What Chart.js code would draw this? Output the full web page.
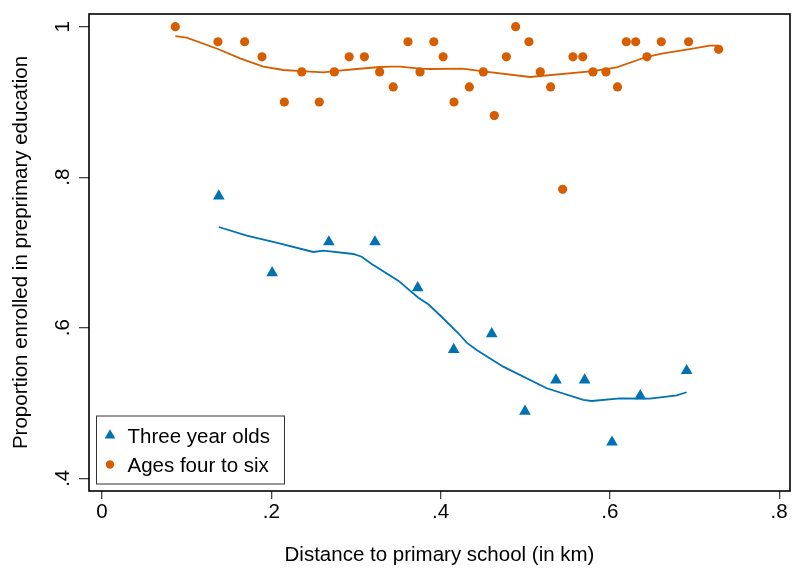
<!DOCTYPE html>
<html>
<head>
<meta charset="utf-8">
<script src="https://cdn.jsdelivr.net/npm/chart.js@4.4.0/dist/chart.umd.min.js"></script>
<style>
  html, body { margin: 0; padding: 0; background: #fff; }
  #chart { display: block; }
</style>
</head>
<body>
<canvas id="chart" width="792" height="569"></canvas>
<script>
// Values
const seriesLabels = ['Three year olds', 'Ages four to six'];

// three year olds: scatter + smoothed line
const threeX = [0.138, 0.201, 0.268, 0.3225, 0.373, 0.4155, 0.4604, 0.4997, 0.5363, 0.5702, 0.6025, 0.6359, 0.6907];
const threeY = [0.775, 0.673, 0.714, 0.714, 0.653, 0.571, 0.592, 0.489, 0.5305, 0.5305, 0.448, 0.5096, 0.543];
const threeFitX = [0.138, 0.171, 0.206, 0.2496, 0.2615, 0.2969, 0.3068, 0.3186, 0.350, 0.3737, 0.3855, 0.3993, 0.421, 0.4308, 0.4426, 0.474, 0.5253, 0.5686, 0.5785, 0.6119, 0.6474, 0.679, 0.6907];
const threeFitY = [0.7339, 0.7223, 0.713, 0.7007, 0.7024, 0.698, 0.6944, 0.6847, 0.6626, 0.64, 0.6312, 0.6166, 0.5927, 0.5802, 0.5705, 0.5483, 0.5196, 0.5041, 0.5027, 0.5063, 0.5058, 0.5103, 0.5143];

// ages four to six: scatter + smoothed line
const fourSixX = [0.0866, 0.137, 0.1685, 0.189, 0.2154, 0.236, 0.2567, 0.2745, 0.292, 0.31, 0.328, 0.344, 0.3615, 0.3757, 0.392, 0.403, 0.4158, 0.434, 0.4505, 0.4635, 0.4777, 0.4887, 0.5044, 0.5178, 0.530, 0.5442, 0.5564, 0.568, 0.580, 0.5954, 0.609, 0.6194, 0.6305, 0.6438, 0.6607, 0.693, 0.7285];
const fourSixY = [1.0, 0.98, 0.98, 0.96, 0.90, 0.94, 0.90, 0.94, 0.96, 0.96, 0.94, 0.92, 0.98, 0.94, 0.98, 0.96, 0.90, 0.92, 0.94, 0.882, 0.96, 1.0, 0.98, 0.94, 0.92, 0.784, 0.96, 0.96, 0.94, 0.94, 0.92, 0.98, 0.98, 0.96, 0.98, 0.98, 0.97];
const fourSixFitX = [0.0866, 0.100, 0.137, 0.163, 0.1906, 0.2142, 0.236, 0.2615, 0.2745, 0.3009, 0.328, 0.3403, 0.352, 0.3757, 0.3875, 0.426, 0.4505, 0.5056, 0.58, 0.608, 0.6438, 0.663, 0.6926, 0.718, 0.7285];
const fourSixFitY = [0.9876, 0.9854, 0.9704, 0.958, 0.9469, 0.9425, 0.9411, 0.9394, 0.9411, 0.9438, 0.9465, 0.9469, 0.9469, 0.9442, 0.9438, 0.9442, 0.9407, 0.9332, 0.9411, 0.9461, 0.9601, 0.9647, 0.97, 0.9748, 0.9748];

// axis ticks
const xTicks = [0, 0.2, 0.4, 0.6, 0.8];
const xTickLabels = ['0', '.2', '.4', '.6', '.8'];
const yTicks = [0.4, 0.6, 0.8, 1];
const yTickLabels = ['.4', '.6', '.8', '1'];

const BLUE = '#0072B2';
const ORANGE = '#D55E00';
const FONT = "'Liberation Sans', Arial, sans-serif";

function toPoints(xs, ys) {
    return xs.map((x, i) => ({ x: x, y: ys[i] }));
}

// frame, rotated y labels and the legend inside the plot
const stataPlugin = {
    id: 'stataPlugin',
    afterDraw(chart) {
        const { ctx, chartArea } = chart;
        const yScale = chart.scales.y;

        ctx.save();
        // plot region frame
        ctx.strokeStyle = '#000';
        ctx.lineWidth = 1.6;
        ctx.strokeRect(chartArea.left, chartArea.top, chartArea.right - chartArea.left, chartArea.bottom - chartArea.top);

        // y tick labels, rotated like Stata
        ctx.fillStyle = '#000';
        ctx.font = '20.5px ' + FONT;
        ctx.textAlign = 'center';
        ctx.textBaseline = 'alphabetic';
        yTicks.forEach((v, i) => {
            const py = yScale.getPixelForValue(v);
            ctx.save();
            ctx.translate(chartArea.left - 20, py);
            ctx.rotate(-Math.PI / 2);
            ctx.fillText(yTickLabels[i], 0, 0);
            ctx.restore();
        });

        // legend box
        const bx = chartArea.left + 7.5, by = 416, bw = 188, bh = 68;
        ctx.fillStyle = '#fff';
        ctx.fillRect(bx, by, bw, bh);
        ctx.strokeStyle = '#333';
        ctx.lineWidth = 1;
        ctx.strokeRect(bx, by, bw, bh);

        const items = [
            { label: seriesLabels[0], color: BLUE, style: 'triangle', radius: 6.2, y: 435.5 },
            { label: seriesLabels[1], color: ORANGE, style: 'circle', radius: 4.2, y: 464.5 }
        ];
        items.forEach(it => {
            ctx.fillStyle = it.color;
            ctx.strokeStyle = it.color;
            Chart.helpers.drawPoint(ctx, { pointStyle: it.style, radius: it.radius, rotation: 0, borderWidth: 0 }, bx + 13.5, it.y);
            ctx.fillStyle = '#000';
            ctx.textAlign = 'left';
            ctx.textBaseline = 'alphabetic';
            ctx.fillText(it.label, bx + 31, it.y + 7.8);
        });
        ctx.restore();
    }
};

const ctx = document.getElementById('chart').getContext('2d');

new Chart(ctx, {
    type: 'scatter',
    data: {
        datasets: [
            {
                label: seriesLabels[0],
                data: toPoints(threeX, threeY),
                pointStyle: 'triangle',
                pointRadius: 6.75,
                pointBorderWidth: 0,
                backgroundColor: BLUE,
                borderColor: BLUE
            },
            {
                label: seriesLabels[1],
                data: toPoints(fourSixX, fourSixY),
                pointStyle: 'circle',
                pointRadius: 4.6,
                pointBorderWidth: 0,
                backgroundColor: ORANGE,
                borderColor: ORANGE
            },
            {
                label: 'fit three',
                data: toPoints(threeFitX, threeFitY),
                showLine: true,
                pointRadius: 0,
                borderColor: BLUE,
                borderWidth: 1.8,
                tension: 0
            },
            {
                label: 'fit four to six',
                data: toPoints(fourSixFitX, fourSixFitY),
                showLine: true,
                pointRadius: 0,
                borderColor: ORANGE,
                borderWidth: 1.8,
                tension: 0
            }
        ]
    },
    options: {
        responsive: false,
        animation: false,
        events: [],
        layout: { autoPadding: false, padding: { top: 14, right: 2, left: 0, bottom: 0 } },
        plugins: {
            legend: { display: false },
            tooltip: { enabled: false }
        },
        scales: {
            x: {
                type: 'linear',
                min: -0.01536,
                max: 0.8128,
                afterBuildTicks: (scale) => { scale.ticks = xTicks.map(v => ({ value: v })); },
                afterFit: (scale) => {
                    scale.height = 78;
                    scale.paddingLeft = 0;
                    scale.paddingRight = 0;
                },
                border: { display: false },
                grid: { display: true, drawOnChartArea: false, drawTicks: true, tickLength: 8, color: '#444', lineWidth: 1.3 },
                ticks: {
                    color: '#000',
                    font: { family: FONT, size: 20.5 },
                    padding: 1,
                    maxRotation: 0,
                    callback: (v, i) => xTickLabels[i]
                },
                title: {
                    display: true,
                    text: 'Distance to primary school (in km)',
                    color: '#000',
                    font: { family: FONT, size: 20.5 },
                    padding: { top: 0, bottom: 1 }
                }
            },
            y: {
                type: 'linear',
                min: 0.3831,
                max: 1.0169,
                afterBuildTicks: (scale) => { scale.ticks = yTicks.map(v => ({ value: v })); },
                afterFit: (scale) => {
                    scale.width = 89;
                    scale.paddingTop = 0;
                    scale.paddingBottom = 0;
                },
                border: { display: false },
                grid: { display: true, drawOnChartArea: false, drawTicks: true, tickLength: 10, color: '#444', lineWidth: 1.3 },
                ticks: { display: false },
                title: {
                    display: true,
                    text: 'Proportion enrolled in preprimary education',
                    color: '#000',
                    font: { family: FONT, size: 20.5 },
                    padding: { top: 9.5, bottom: 0 }
                }
            }
        }
    },
    plugins: [stataPlugin]
});
</script>
</body>
</html>
